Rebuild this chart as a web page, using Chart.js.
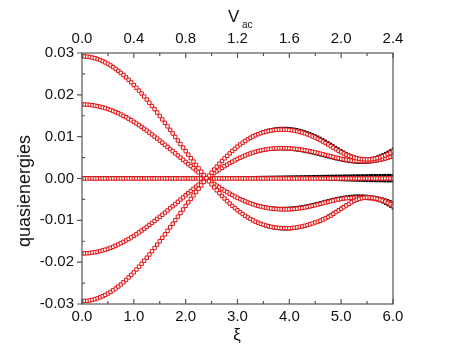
<!DOCTYPE html>
<html>
<head>
<meta charset="utf-8">
<script src="https://cdn.jsdelivr.net/npm/chart.js@4.4.1/dist/chart.umd.min.js"></script>
<style>
  body { margin: 0; background: #fff; }
  #wrap { width: 457px; height: 350px; }
</style>
</head>
<body>
<div id="wrap"><canvas id="chart" width="457" height="350"></canvas></div>
<script>
// xi values (bottom axis), 0.05 steps
const xi = [
  0.00, 0.05, 0.10, 0.15, 0.20, 0.25, 0.30, 0.35, 0.40, 0.45,
  0.50, 0.55, 0.60, 0.65, 0.70, 0.75, 0.80, 0.85, 0.90, 0.95,
  1.00, 1.05, 1.10, 1.15, 1.20, 1.25, 1.30, 1.35, 1.40, 1.45,
  1.50, 1.55, 1.60, 1.65, 1.70, 1.75, 1.80, 1.85, 1.90, 1.95,
  2.00, 2.05, 2.10, 2.15, 2.20, 2.25, 2.30, 2.35, 2.40, 2.45,
  2.50, 2.55, 2.60, 2.65, 2.70, 2.75, 2.80, 2.85, 2.90, 2.95,
  3.00, 3.05, 3.10, 3.15, 3.20, 3.25, 3.30, 3.35, 3.40, 3.45,
  3.50, 3.55, 3.60, 3.65, 3.70, 3.75, 3.80, 3.85, 3.90, 3.95,
  4.00, 4.05, 4.10, 4.15, 4.20, 4.25, 4.30, 4.35, 4.40, 4.45,
  4.50, 4.55, 4.60, 4.65, 4.70, 4.75, 4.80, 4.85, 4.90, 4.95,
  5.00, 5.05, 5.10, 5.15, 5.20, 5.25, 5.30, 5.35, 5.40, 5.45,
  5.50, 5.55, 5.60, 5.65, 5.70, 5.75, 5.80, 5.85, 5.90, 5.95,
  6.00
];

// red open squares
const outerA = [
  0.02920, 0.02918, 0.02913, 0.02904, 0.02891, 0.02875, 0.02855, 0.02831, 0.02804, 0.02774,
  0.02740, 0.02703, 0.02663, 0.02620, 0.02573, 0.02524, 0.02471, 0.02416, 0.02358, 0.02297,
  0.02234, 0.02169, 0.02101, 0.02031, 0.01960, 0.01886, 0.01811, 0.01734, 0.01655, 0.01576,
  0.01494, 0.01413, 0.01330, 0.01246, 0.01162, 0.01077, 0.00993, 0.00908, 0.00823, 0.00738,
  0.00654, 0.00570, 0.00486, 0.00404, 0.00322, 0.00242, 0.00162, 0.00084, 0.00007, -0.00068,
  -0.00141, -0.00213, -0.00283, -0.00350, -0.00416, -0.00479, -0.00540, -0.00599, -0.00655, -0.00708,
  -0.00758, -0.00805, -0.00850, -0.00892, -0.00931, -0.00967, -0.01000, -0.01030, -0.01058, -0.01083,
  -0.01105, -0.01124, -0.01141, -0.01155, -0.01166, -0.01175, -0.01181, -0.01185, -0.01186, -0.01187,
  -0.01188, -0.01184, -0.01177, -0.01168, -0.01157, -0.01145, -0.01130, -0.01113, -0.01094, -0.01073,
  -0.01051, -0.01032, -0.01010, -0.00982, -0.00952, -0.00920, -0.00886, -0.00845, -0.00805, -0.00765,
  -0.00725, -0.00685, -0.00645, -0.00605, -0.00568, -0.00535, -0.00508, -0.00487, -0.00471, -0.00460,
  -0.00455, -0.00456, -0.00462, -0.00472, -0.00487, -0.00505, -0.00527, -0.00553, -0.00584, -0.00620,
  -0.00660
];
const outerB = [
  -0.02930, -0.02928, -0.02923, -0.02914, -0.02901, -0.02884, -0.02864, -0.02841, -0.02814, -0.02783,
  -0.02750, -0.02713, -0.02672, -0.02629, -0.02582, -0.02532, -0.02480, -0.02424, -0.02366, -0.02305,
  -0.02242, -0.02176, -0.02108, -0.02038, -0.01966, -0.01893, -0.01817, -0.01740, -0.01661, -0.01581,
  -0.01500, -0.01418, -0.01334, -0.01251, -0.01166, -0.01081, -0.00996, -0.00911, -0.00826, -0.00741,
  -0.00656, -0.00572, -0.00488, -0.00405, -0.00323, -0.00243, -0.00163, -0.00084, -0.00007, 0.00068,
  0.00142, 0.00214, 0.00284, 0.00352, 0.00417, 0.00481, 0.00542, 0.00601, 0.00657, 0.00712,
  0.00764, 0.00812, 0.00857, 0.00899, 0.00938, 0.00974, 0.01006, 0.01035, 0.01061, 0.01084,
  0.01104, 0.01121, 0.01135, 0.01147, 0.01156, 0.01163, 0.01167, 0.01169, 0.01169, 0.01166,
  0.01161, 0.01153, 0.01143, 0.01130, 0.01115, 0.01098, 0.01078, 0.01056, 0.01032, 0.01006,
  0.00978, 0.00948, 0.00916, 0.00882, 0.00847, 0.00811, 0.00774, 0.00737, 0.00700, 0.00664,
  0.00630, 0.00598, 0.00568, 0.00542, 0.00519, 0.00500, 0.00484, 0.00472, 0.00463, 0.00458,
  0.00456, 0.00458, 0.00464, 0.00474, 0.00488, 0.00506, 0.00528, 0.00554, 0.00584, 0.00617,
  0.00652
];
const innerA = [
  0.01770, 0.01769, 0.01766, 0.01760, 0.01752, 0.01742, 0.01730, 0.01716, 0.01700, 0.01682,
  0.01661, 0.01639, 0.01614, 0.01588, 0.01560, 0.01530, 0.01498, 0.01464, 0.01429, 0.01393,
  0.01354, 0.01315, 0.01274, 0.01231, 0.01188, 0.01143, 0.01098, 0.01051, 0.01003, 0.00955,
  0.00906, 0.00856, 0.00806, 0.00755, 0.00704, 0.00653, 0.00602, 0.00550, 0.00499, 0.00447,
  0.00396, 0.00345, 0.00295, 0.00245, 0.00195, 0.00147, 0.00098, 0.00051, 0.00004, -0.00041,
  -0.00086, -0.00129, -0.00171, -0.00212, -0.00252, -0.00290, -0.00327, -0.00363, -0.00397, -0.00432,
  -0.00463, -0.00493, -0.00521, -0.00547, -0.00572, -0.00595, -0.00616, -0.00636, -0.00654, -0.00670,
  -0.00684, -0.00697, -0.00708, -0.00717, -0.00725, -0.00731, -0.00735, -0.00738, -0.00739, -0.00738,
  -0.00736, -0.00732, -0.00727, -0.00720, -0.00712, -0.00703, -0.00692, -0.00680, -0.00667, -0.00653,
  -0.00638, -0.00623, -0.00607, -0.00591, -0.00575, -0.00559, -0.00543, -0.00528, -0.00514, -0.00501,
  -0.00490, -0.00480, -0.00472, -0.00466, -0.00462, -0.00460, -0.00459, -0.00459, -0.00460, -0.00462,
  -0.00466, -0.00471, -0.00478, -0.00487, -0.00498, -0.00511, -0.00526, -0.00544, -0.00564, -0.00586,
  -0.00610
];
const innerB = [
  -0.01790, -0.01789, -0.01786, -0.01780, -0.01772, -0.01762, -0.01750, -0.01736, -0.01719, -0.01701,
  -0.01680, -0.01657, -0.01632, -0.01606, -0.01577, -0.01547, -0.01515, -0.01481, -0.01445, -0.01408,
  -0.01370, -0.01330, -0.01288, -0.01245, -0.01201, -0.01156, -0.01110, -0.01063, -0.01015, -0.00966,
  -0.00916, -0.00866, -0.00815, -0.00764, -0.00712, -0.00661, -0.00609, -0.00557, -0.00504, -0.00453,
  -0.00401, -0.00349, -0.00298, -0.00248, -0.00198, -0.00148, -0.00099, -0.00052, -0.00004, 0.00042,
  0.00087, 0.00130, 0.00173, 0.00215, 0.00255, 0.00294, 0.00331, 0.00367, 0.00401, 0.00434,
  0.00466, 0.00496, 0.00524, 0.00551, 0.00576, 0.00599, 0.00620, 0.00639, 0.00656, 0.00671,
  0.00684, 0.00695, 0.00704, 0.00711, 0.00717, 0.00721, 0.00724, 0.00725, 0.00725, 0.00723,
  0.00720, 0.00716, 0.00710, 0.00703, 0.00695, 0.00686, 0.00675, 0.00664, 0.00651, 0.00638,
  0.00624, 0.00609, 0.00594, 0.00578, 0.00562, 0.00546, 0.00530, 0.00514, 0.00499, 0.00485,
  0.00471, 0.00459, 0.00448, 0.00438, 0.00430, 0.00423, 0.00418, 0.00415, 0.00413, 0.00413,
  0.00415, 0.00419, 0.00424, 0.00431, 0.00440, 0.00451, 0.00464, 0.00479, 0.00496, 0.00515,
  0.00536
];
const zeroLine = [
  0, 0, 0, 0, 0, 0, 0, 0, 0, 0,
  0, 0, 0, 0, 0, 0, 0, 0, 0, 0,
  0, 0, 0, 0, 0, 0, 0, 0, 0, 0,
  0, 0, 0, 0, 0, 0, 0, 0, 0, 0,
  0, 0, 0, 0, 0, 0, 0, 0, 0, 0,
  0, 0, 0, 0, 0, 0, 0, 0, 0, 0,
  0, 0, 0, 0, 0, 0, 0, 0, 0, 0,
  0, 0, 0, 0, 0, 0, 0, 0, 0, 0,
  0, 0, 0, 0, 0, 0, 0, 0, 0, 0,
  0, 0, 0, 0, 0, 0, 0, 0, 0, 0,
  0, 0, 0, 0, 0, 0, 0, 0, 0, 0,
  0, 0, 0, 0, 0, 0, 0, 0, 0, 0,
  0
];

// black squares: same as red up to xi = 2.95, own readings from xi = 3.0 on
const blackOuterATail = [
  -0.00766, -0.00815, -0.00862, -0.00905, -0.00946, -0.00983, -0.01017, -0.01048, -0.01076, -0.01101,
  -0.01124, -0.01144, -0.01161, -0.01176, -0.01188, -0.01198, -0.01205, -0.01210, -0.01212, -0.01212,
  -0.01209, -0.01204, -0.01197, -0.01187, -0.01175, -0.01160, -0.01143, -0.01124, -0.01102, -0.01078,
  -0.01052, -0.01024, -0.00994, -0.00962, -0.00928, -0.00892, -0.00855, -0.00817, -0.00778, -0.00739,
  -0.00701, -0.00664, -0.00628, -0.00594, -0.00563, -0.00535, -0.00511, -0.00492, -0.00478, -0.00470,
  -0.00468, -0.00472, -0.00482, -0.00497, -0.00517, -0.00541, -0.00569, -0.00600, -0.00634, -0.00670,
  -0.00708
];
const blackOuterBTail = [
  0.00770, 0.00820, 0.00866, 0.00910, 0.00950, 0.00988, 0.01022, 0.01053, 0.01081, 0.01106,
  0.01128, 0.01147, 0.01163, 0.01177, 0.01188, 0.01197, 0.01203, 0.01206, 0.01207, 0.01205,
  0.01201, 0.01194, 0.01185, 0.01173, 0.01159, 0.01143, 0.01124, 0.01103, 0.01080, 0.01055,
  0.01028, 0.00999, 0.00968, 0.00935, 0.00900, 0.00864, 0.00826, 0.00788, 0.00750, 0.00712,
  0.00675, 0.00640, 0.00606, 0.00575, 0.00547, 0.00522, 0.00501, 0.00485, 0.00474, 0.00469,
  0.00470, 0.00477, 0.00489, 0.00505, 0.00525, 0.00549, 0.00576, 0.00606, 0.00638, 0.00672,
  0.00708
];
const blackInnerATail = [
  -0.00457, -0.00486, -0.00514, -0.00540, -0.00564, -0.00586, -0.00606, -0.00624, -0.00640, -0.00654,
  -0.00666, -0.00677, -0.00686, -0.00693, -0.00699, -0.00703, -0.00706, -0.00707, -0.00707, -0.00705,
  -0.00702, -0.00697, -0.00691, -0.00684, -0.00675, -0.00665, -0.00654, -0.00642, -0.00629, -0.00615,
  -0.00600, -0.00585, -0.00569, -0.00553, -0.00537, -0.00521, -0.00506, -0.00491, -0.00477, -0.00464,
  -0.00452, -0.00441, -0.00432, -0.00424, -0.00418, -0.00414, -0.00411, -0.00410, -0.00411, -0.00414,
  -0.00418, -0.00424, -0.00432, -0.00442, -0.00454, -0.00468, -0.00484, -0.00502, -0.00522, -0.00544,
  -0.00568
];
const blackInnerBTail = [
  0.00460, 0.00490, 0.00518, 0.00544, 0.00568, 0.00590, 0.00610, 0.00628, 0.00644, 0.00658,
  0.00670, 0.00680, 0.00688, 0.00694, 0.00699, 0.00702, 0.00703, 0.00703, 0.00701, 0.00698,
  0.00694, 0.00688, 0.00681, 0.00673, 0.00664, 0.00653, 0.00642, 0.00629, 0.00616, 0.00602,
  0.00587, 0.00572, 0.00556, 0.00540, 0.00524, 0.00508, 0.00492, 0.00477, 0.00462, 0.00448,
  0.00435, 0.00423, 0.00412, 0.00402, 0.00394, 0.00387, 0.00382, 0.00379, 0.00378, 0.00379,
  0.00382, 0.00387, 0.00394, 0.00403, 0.00414, 0.00427, 0.00442, 0.00459, 0.00478, 0.00499,
  0.00522
];
const blackZeroUp = [
  0.00025, 0.00025, 0.00025, 0.00025, 0.00025, 0.00025, 0.00025, 0.00025, 0.00025, 0.00025,
  0.00025, 0.00025, 0.00025, 0.00025, 0.00025, 0.00025, 0.00025, 0.00025, 0.00025, 0.00025,
  0.00025, 0.00025, 0.00025, 0.00025, 0.00025, 0.00025, 0.00025, 0.00025, 0.00025, 0.00025,
  0.00025, 0.00025, 0.00025, 0.00025, 0.00025, 0.00025, 0.00025, 0.00025, 0.00025, 0.00025,
  0.00025, 0.00025, 0.00025, 0.00025, 0.00025, 0.00025, 0.00025, 0.00025, 0.00025, 0.00025,
  0.00025, 0.00025, 0.00025, 0.00025, 0.00025, 0.00025, 0.00025, 0.00025, 0.00025, 0.00025,
  0.00026, 0.00027, 0.00027, 0.00028, 0.00029, 0.00030, 0.00030, 0.00031, 0.00032, 0.00033,
  0.00034, 0.00035, 0.00036, 0.00037, 0.00038, 0.00039, 0.00040, 0.00041, 0.00042, 0.00043,
  0.00044, 0.00045, 0.00046, 0.00047, 0.00048, 0.00049, 0.00050, 0.00051, 0.00052, 0.00053,
  0.00054, 0.00055, 0.00056, 0.00057, 0.00058, 0.00059, 0.00060, 0.00061, 0.00062, 0.00063,
  0.00064, 0.00065, 0.00066, 0.00067, 0.00068, 0.00069, 0.00070, 0.00071, 0.00072, 0.00073,
  0.00074, 0.00075, 0.00076, 0.00077, 0.00078, 0.00078, 0.00079, 0.00079, 0.00080, 0.00080,
  0.00080
];
// from xi = 4.5 on
const blackZeroDownTail = [
  -0.00005, -0.00008, -0.00011, -0.00014, -0.00017, -0.00020, -0.00023, -0.00026, -0.00029, -0.00032,
  -0.00035, -0.00037, -0.00039, -0.00041, -0.00043, -0.00045, -0.00047, -0.00049, -0.00051, -0.00053,
  -0.00055, -0.00056, -0.00057, -0.00058, -0.00059, -0.00060, -0.00061, -0.00062, -0.00063, -0.00064,
  -0.00065
];

const blackOuterA = outerA.slice(0, 60).concat(blackOuterATail);
const blackOuterB = outerB.slice(0, 60).concat(blackOuterBTail);
const blackInnerA = innerA.slice(0, 60).concat(blackInnerATail);
const blackInnerB = innerB.slice(0, 60).concat(blackInnerBTail);
const blackZeroDown = zeroLine.slice(0, 90).concat(blackZeroDownTail);

// ticks
const xTicks = [0, 1, 2, 3, 4, 5, 6];
const xMinorTicks = [0.5, 1.5, 2.5, 3.5, 4.5, 5.5];
const vacTicks = [0, 0.4, 0.8, 1.2, 1.6, 2.0, 2.4];
const vacMinorTicks = [0.2, 0.6, 1.0, 1.4, 1.8, 2.2];
const yTicks = [-0.03, -0.02, -0.01, 0, 0.01, 0.02, 0.03];
const yMinorTicks = [-0.025, -0.015, -0.005, 0.005, 0.015, 0.025];

const FONT = '"Liberation Sans", Arial, sans-serif';
const RED = 'rgb(232,16,16)';
const AXIS = '#555';

function toPoints(ys) {
    return xi.map((x, i) => ({ x: x, y: ys[i] }));
}

function blackSet(ys) {
    return {
        data: toPoints(ys),
        pointStyle: 'rect',
        pointRadius: 1.8,
        backgroundColor: '#000',
        borderColor: '#000',
        borderWidth: 0,
        order: 2
    };
}

// white-filled so the black marks only show where they stick out
function redSet(ys) {
    return {
        data: toPoints(ys),
        pointStyle: 'rect',
        pointRadius: 2.4,
        backgroundColor: '#fff',
        borderColor: RED,
        borderWidth: 1,
        order: 1
    };
}

// box, inward/outward tick marks, axis titles
const framePlugin = {
    id: 'frame',
    afterDraw(chart) {
        const ctx = chart.ctx;
        const a = chart.chartArea;
        const sx = chart.scales.x, sy = chart.scales.y, sv = chart.scales.x2;
        ctx.save();
        ctx.strokeStyle = AXIS;
        ctx.lineWidth = 1.2;
        ctx.strokeRect(a.left, a.top, a.right - a.left, a.bottom - a.top);

        ctx.beginPath();
        xTicks.forEach(v => {
            const p = sx.getPixelForValue(v);
            ctx.moveTo(p, a.bottom); ctx.lineTo(p, a.bottom - 5);
        });
        xMinorTicks.forEach(v => {
            const p = sx.getPixelForValue(v);
            ctx.moveTo(p, a.bottom); ctx.lineTo(p, a.bottom - 3);
        });
        vacTicks.forEach(v => {
            const p = sv.getPixelForValue(v);
            ctx.moveTo(p, a.top); ctx.lineTo(p, a.top + 5);
        });
        vacMinorTicks.forEach(v => {
            const p = sv.getPixelForValue(v);
            ctx.moveTo(p, a.top); ctx.lineTo(p, a.top + 3);
        });
        yTicks.forEach(v => {
            const p = sy.getPixelForValue(v);
            ctx.moveTo(a.left - 5, p); ctx.lineTo(a.left, p);
        });
        yMinorTicks.forEach(v => {
            const p = sy.getPixelForValue(v);
            ctx.moveTo(a.left, p); ctx.lineTo(a.left + 3, p);
        });
        ctx.stroke();

        ctx.fillStyle = '#111';
        // y title
        ctx.save();
        ctx.translate(25, 191);
        ctx.rotate(-Math.PI / 2);
        ctx.font = '18px ' + FONT;
        ctx.textAlign = 'center';
        ctx.textBaseline = 'middle';
        ctx.fillText('quasienergies', 0, 0);
        ctx.restore();

        // x title
        ctx.font = '17px ' + FONT;
        ctx.textAlign = 'center';
        ctx.textBaseline = 'alphabetic';
        ctx.fillText('ξ', 237, 340);

        // top title V_ac
        ctx.textAlign = 'left';
        ctx.font = '17px ' + FONT;
        ctx.fillText('V', 228, 22);
        ctx.font = '10px ' + FONT;
        ctx.fillText('ac', 242, 28);
        ctx.restore();
    }
};

const tickFont = { family: FONT, size: 15 };

new Chart(document.getElementById('chart'), {
    type: 'scatter',
    data: {
        datasets: [
            redSet(outerA), redSet(outerB), redSet(innerA), redSet(innerB), redSet(zeroLine),
            blackSet(blackOuterA), blackSet(blackOuterB), blackSet(blackInnerA), blackSet(blackInnerB),
            blackSet(blackZeroUp), blackSet(blackZeroDown)
        ]
    },
    options: {
        responsive: false,
        animation: false,
        layout: { padding: { left: 0, right: 64, top: 0, bottom: 0 } },
        plugins: { legend: { display: false }, tooltip: { enabled: false } },
        scales: {
            x: {
                type: 'linear', position: 'bottom', min: 0, max: 6,
                afterBuildTicks: s => { s.ticks = xTicks.map(v => ({ value: v })); },
                afterFit: s => { s.height = 46; },
                grid: { display: false, drawTicks: false },
                border: { display: false },
                ticks: { font: tickFont, color: '#111', padding: 4, maxRotation: 0, autoSkip: false,
                         callback: v => Number(v).toFixed(1) }
            },
            x2: {
                type: 'linear', position: 'top', min: 0, max: 2.4, display: true,
                afterBuildTicks: s => { s.ticks = vacTicks.map(v => ({ value: v })); },
                afterFit: s => { s.height = 53; },
                grid: { display: false, drawTicks: false },
                border: { display: false },
                ticks: { font: tickFont, color: '#111', padding: 5, maxRotation: 0, autoSkip: false,
                         callback: v => Number(v).toFixed(1) }
            },
            y: {
                type: 'linear', position: 'left', min: -0.03, max: 0.03,
                afterBuildTicks: s => { s.ticks = yTicks.map(v => ({ value: v })); },
                afterFit: s => { s.width = 82; },
                grid: { display: false, drawTicks: false },
                border: { display: false },
                ticks: { font: tickFont, color: '#111', padding: 8, autoSkip: false,
                         callback: v => (Math.abs(v) < 1e-9 ? 0 : Number(v)).toFixed(2) }
            }
        }
    },
    plugins: [framePlugin]
});
</script>
</body>
</html>
